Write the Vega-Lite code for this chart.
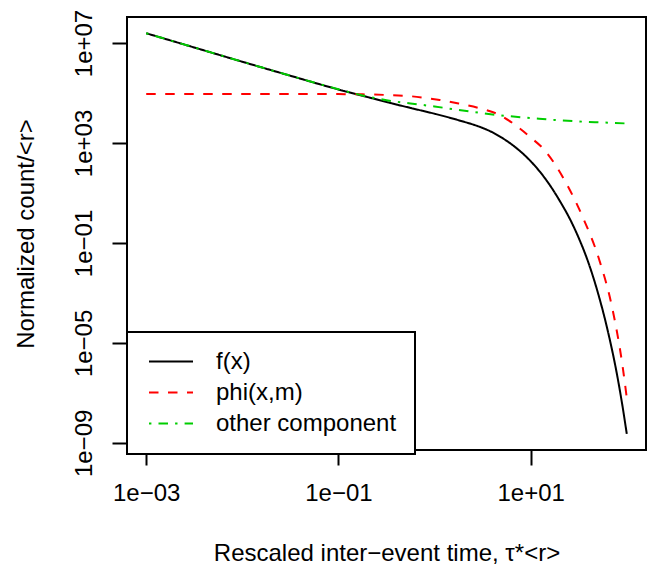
{
  "$schema": "https://vega.github.io/schema/vega-lite/v6.json",
  "width": 519,
  "height": 433,
  "autosize": "none",
  "padding": {"left": 127, "top": 17, "right": 2, "bottom": 118},
  "background": "white",
  "config": {
    "font": "Liberation Sans",
    "view": {"stroke": "black", "strokeWidth": 2},
    "axis": {
      "grid": false, "domain": false,
      "tickColor": "black", "tickWidth": 2, "tickSize": 15,
      "labelColor": "black", "labelFontSize": 24, "labelFont": "Liberation Sans",
      "titleFont": "Liberation Sans", "titleFontSize": 24, "titleFontWeight": "normal", "titleColor": "black"
    },
    "legend": {
      "strokeColor": "black", "strokeWidth": 2, "fillColor": "white",
      "padding": 18, "symbolType": "stroke", "symbolSize": 1936, "symbolStrokeWidth": 2,
      "symbolOffset": 3, "labelOffset": 22, "labelFontSize": 24, "labelFont": "Liberation Sans",
      "labelColor": "black", "rowPadding": 6, "clipHeight": 23, "labelLimit": 400
    }
  },
  "data": {
    "values": [
      {"series": "f(x)", "x": 0.001, "y": 24547000},
      {"series": "f(x)", "x": 0.0031623, "y": 6607000},
      {"series": "f(x)", "x": 0.01, "y": 1778000},
      {"series": "f(x)", "x": 0.031623, "y": 489800},
      {"series": "f(x)", "x": 0.1, "y": 138000},
      {"series": "f(x)", "x": 0.17783, "y": 77625},
      {"series": "f(x)", "x": 0.31623, "y": 43650},
      {"series": "f(x)", "x": 0.56234, "y": 25119},
      {"series": "f(x)", "x": 1, "y": 14790},
      {"series": "f(x)", "x": 1.7783, "y": 8128},
      {"series": "f(x)", "x": 3.1623, "y": 3981},
      {"series": "f(x)", "x": 3.9811, "y": 2692},
      {"series": "f(x)", "x": 5.0119, "y": 1622},
      {"series": "f(x)", "x": 6.3096, "y": 891.3},
      {"series": "f(x)", "x": 7.9433, "y": 436.5},
      {"series": "f(x)", "x": 10, "y": 186.2},
      {"series": "f(x)", "x": 12.589, "y": 67.6},
      {"series": "f(x)", "x": 15.849, "y": 20.42},
      {"series": "f(x)", "x": 19.953, "y": 5.012},
      {"series": "f(x)", "x": 25.119, "y": 1.047},
      {"series": "f(x)", "x": 31.623, "y": 0.1585},
      {"series": "f(x)", "x": 39.811, "y": 0.0166},
      {"series": "f(x)", "x": 50.119, "y": 0.001},
      {"series": "f(x)", "x": 63.096, "y": 0.00003311},
      {"series": "f(x)", "x": 79.433, "y": 5.012e-7},
      {"series": "f(x)", "x": 89.125, "y": 3.98e-8},
      {"series": "f(x)", "x": 100, "y": 2.291e-9},

      {"series": "phi(x,m)", "x": 0.001, "y": 91201},
      {"series": "phi(x,m)", "x": 0.01, "y": 91201},
      {"series": "phi(x,m)", "x": 0.1, "y": 90157},
      {"series": "phi(x,m)", "x": 0.17783, "y": 88105},
      {"series": "phi(x,m)", "x": 0.31623, "y": 83176},
      {"series": "phi(x,m)", "x": 0.56234, "y": 74131},
      {"series": "phi(x,m)", "x": 1.1298, "y": 52481},
      {"series": "phi(x,m)", "x": 1.7783, "y": 38019},
      {"series": "phi(x,m)", "x": 2.9376, "y": 24547},
      {"series": "phi(x,m)", "x": 4.7424, "y": 13183},
      {"series": "phi(x,m)", "x": 7.5858, "y": 3981},
      {"series": "phi(x,m)", "x": 10, "y": 1660},
      {"series": "phi(x,m)", "x": 13.9, "y": 524.8},
      {"series": "phi(x,m)", "x": 23.442, "y": 24.55},
      {"series": "phi(x,m)", "x": 34.674, "y": 1.122},
      {"series": "phi(x,m)", "x": 51.761, "y": 0.02089},
      {"series": "phi(x,m)", "x": 71.285, "y": 0.0002089},
      {"series": "phi(x,m)", "x": 90.573, "y": 1.122e-6},
      {"series": "phi(x,m)", "x": 100, "y": 6.31e-8},

      {"series": "other component", "x": 0.001, "y": 24547000},
      {"series": "other component", "x": 0.0031623, "y": 6607000},
      {"series": "other component", "x": 0.01, "y": 1778000},
      {"series": "other component", "x": 0.031623, "y": 489800},
      {"series": "other component", "x": 0.1, "y": 141300},
      {"series": "other component", "x": 0.17783, "y": 79433},
      {"series": "other component", "x": 0.31623, "y": 51286},
      {"series": "other component", "x": 0.56234, "y": 38019},
      {"series": "other component", "x": 1, "y": 28840},
      {"series": "other component", "x": 1.7783, "y": 20893},
      {"series": "other component", "x": 3.1623, "y": 15488},
      {"series": "other component", "x": 5.6234, "y": 12023},
      {"series": "other component", "x": 10, "y": 10000},
      {"series": "other component", "x": 17.783, "y": 8318},
      {"series": "other component", "x": 31.623, "y": 7244},
      {"series": "other component", "x": 56.234, "y": 6607},
      {"series": "other component", "x": 100, "y": 6026}
    ]
  },
  "encoding": {
    "x": {
      "field": "x", "type": "quantitative",
      "scale": {"type": "log", "domain": [0.00063096, 158.489], "nice": false},
      "axis": {
        "values": [0.001, 0.1, 10],
        "labelExpr": "datum.value < 0.01 ? '1e−03' : datum.value < 1 ? '1e−01' : '1e+01'",
        "labelBaseline": "alphabetic", "labelPadding": 35, "labelFlush": false, "labelOverlap": false,
        "title": "Rescaled inter−event time, τ*<r>",
        "titleX": 259.5, "titleY": 110, "titleBaseline": "alphabetic", "titleAlign": "center", "titleAnchor": null
      }
    },
    "y": {
      "field": "y", "type": "quantitative",
      "scale": {"type": "log", "domain": [5.19e-10, 1.0965e8], "nice": false},
      "axis": {
        "values": [1e-9, 1e-5, 0.1, 1000, 10000000],
        "labelExpr": "datum.value < 1e-7 ? '1e−09' : datum.value < 1e-3 ? '1e−05' : datum.value < 10 ? '1e−01' : datum.value < 1e5 ? '1e+03' : '1e+07'",
        "labelAngle": -90, "labelAlign": "center", "labelBaseline": "alphabetic", "labelPadding": 21,
        "labelFlush": false, "labelOverlap": false,
        "title": "Normalized count/<r>",
        "titleX": -94, "titleY": 216.5, "titleAngle": -90, "titleBaseline": "alphabetic", "titleAlign": "center"
      }
    },
    "color": {
      "field": "series", "type": "nominal",
      "scale": {"domain": ["f(x)", "phi(x,m)", "other component"], "range": ["#000000", "#FF0000", "#00CD00"]},
      "legend": {"title": null, "orient": "none", "legendX": 0, "legendY": 315}
    },
    "strokeDash": {
      "field": "series", "type": "nominal",
      "scale": {"domain": ["f(x)", "phi(x,m)", "other component"], "range": [[1, 0], [9.5, 9.5], [2.4, 7.1, 9.5, 7.1]]},
      "legend": {"title": null, "orient": "none", "legendX": 0, "legendY": 315}
    }
  },
  "layer": [
    {"transform": [{"filter": "datum.series === 'f(x)'"}], "mark": {"type": "line", "strokeWidth": 2, "interpolate": "monotone"}},
    {"transform": [{"filter": "datum.series === 'phi(x,m)'"}], "mark": {"type": "line", "strokeWidth": 2, "interpolate": "monotone"}},
    {"transform": [{"filter": "datum.series === 'other component'"}], "mark": {"type": "line", "strokeWidth": 2, "interpolate": "monotone"}}
  ]
}
